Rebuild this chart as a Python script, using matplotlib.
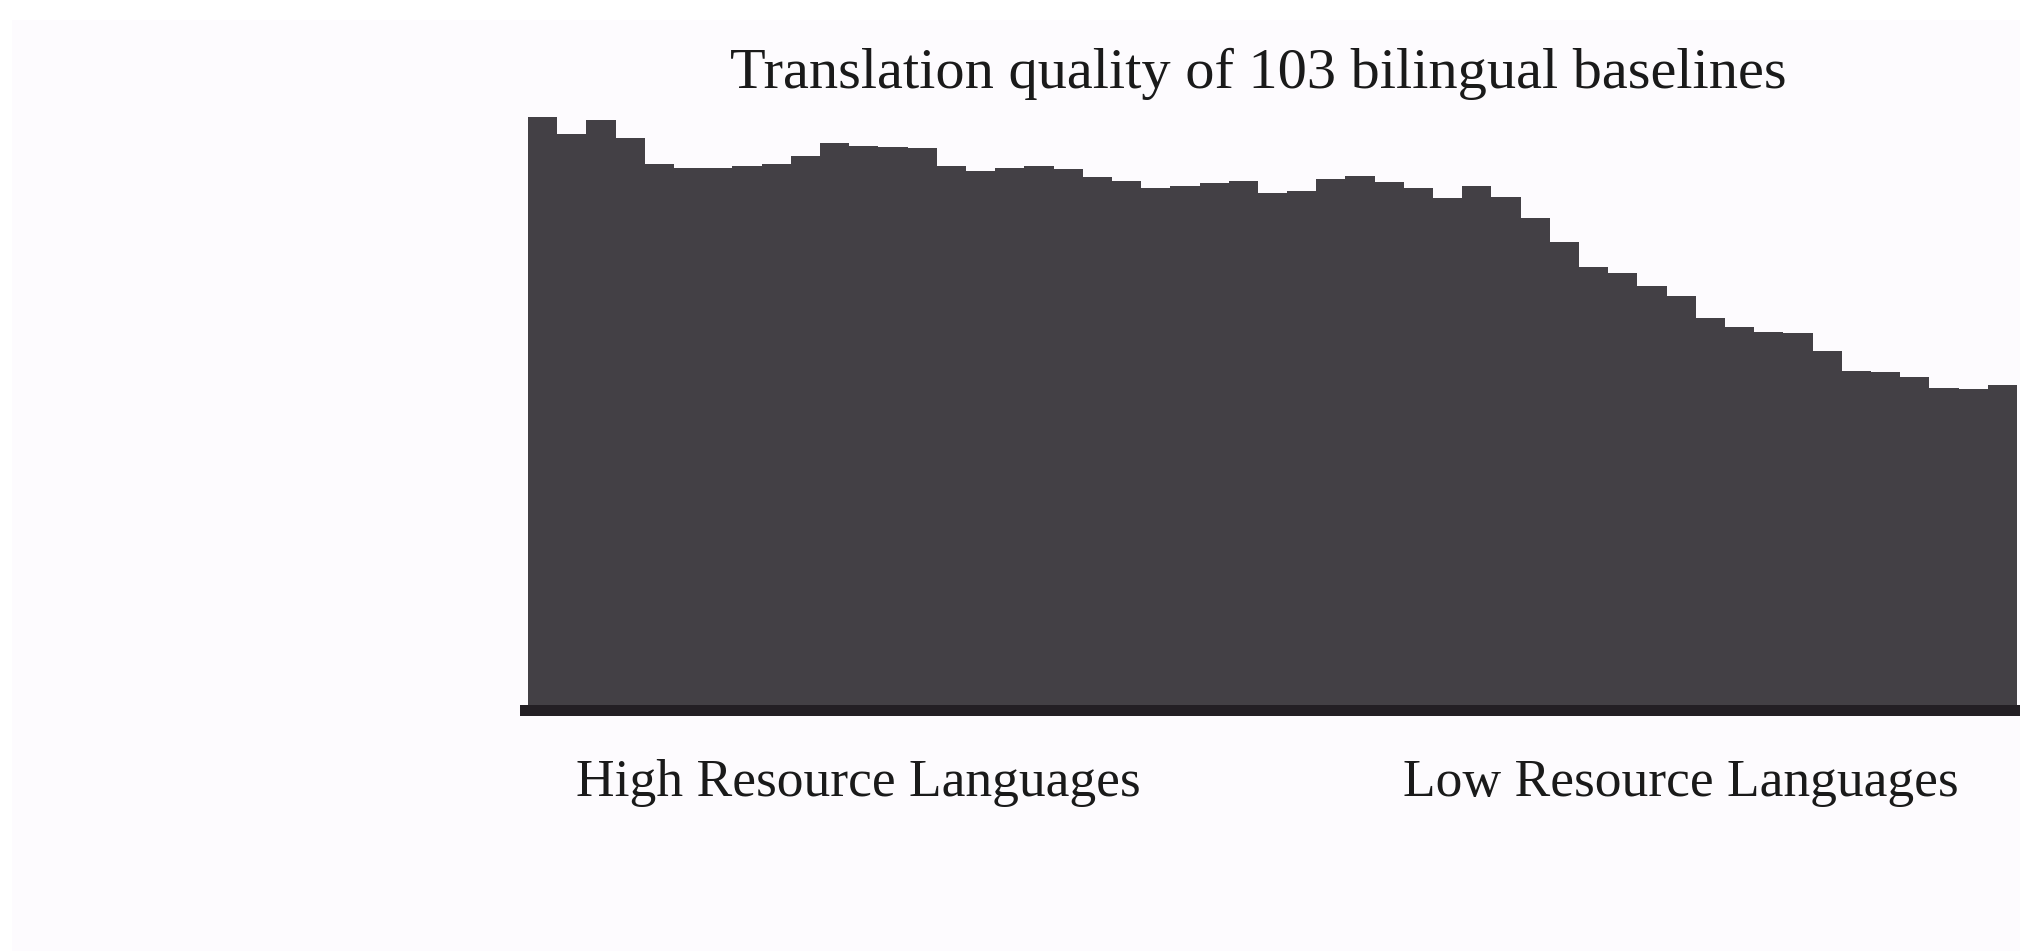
import numpy as np
import matplotlib.pyplot as plt
from matplotlib.patches import Rectangle

# quality score per language group, high resource on the left
scores = [58.8, 57.1, 58.5, 56.7, 54.1, 53.7, 53.7, 53.9, 54.1, 54.9,
          56.2, 55.9, 55.8, 55.7, 53.9, 53.4, 53.7, 53.9, 53.6, 52.8,
          52.4, 51.7, 51.9, 52.2, 52.4, 51.2, 51.4, 52.6, 52.9, 52.3,
          51.7, 50.7, 51.9, 50.8, 48.7, 46.3, 43.8, 43.2, 41.9, 40.9,
          38.7, 37.8, 37.3, 37.2, 35.4, 33.4, 33.3, 32.8, 31.7, 31.6,
          32.0]
title = "Translation quality of 103 bilingual baselines"
left_label = "High Resource Languages"
right_label = "Low Resource Languages"

W, H = 2020, 951
fig = plt.figure(figsize=(W / 100, H / 100), dpi=100)
fig.patch.set_facecolor("white")
fig.patches.append(Rectangle((12 / W, 0), 1 - 12 / W, 1 - 20 / H,
                             transform=fig.transFigure, facecolor="#fdfbfe",
                             edgecolor="none", zorder=-5))

# axes: 10 px per score unit
ax = fig.add_axes([528 / W, 246 / H, 1489 / W, 605 / H])
ax.patch.set_alpha(0)
edges = np.arange(len(scores) + 1)
ax.stairs(scores, edges, fill=True, color="#434045", linewidth=0)
ax.set_xlim(0, len(scores))
ax.set_ylim(0, 60.5)
ax.axis("off")

# thick base line
ax.add_patch(Rectangle((-0.28, -1.1), len(scores) + 0.4, 1.15,
                       facecolor="#231f24", edgecolor="none", clip_on=False))

serif = ["Liberation Serif", "DejaVu Serif"]
fig.text(1258 / W, 1 - 74 / H, title, family=serif, fontsize=42,
         color="#1a1a1a", ha="center", va="center")
fig.text(858 / W, 1 - 783 / H, left_label, family=serif, fontsize=38.5,
         color="#1a1a1a", ha="center", va="center")
fig.text(1681 / W, 1 - 783 / H, right_label, family=serif, fontsize=38.5,
         color="#1a1a1a", ha="center", va="center")

fig.savefig("out.png", dpi=100)
